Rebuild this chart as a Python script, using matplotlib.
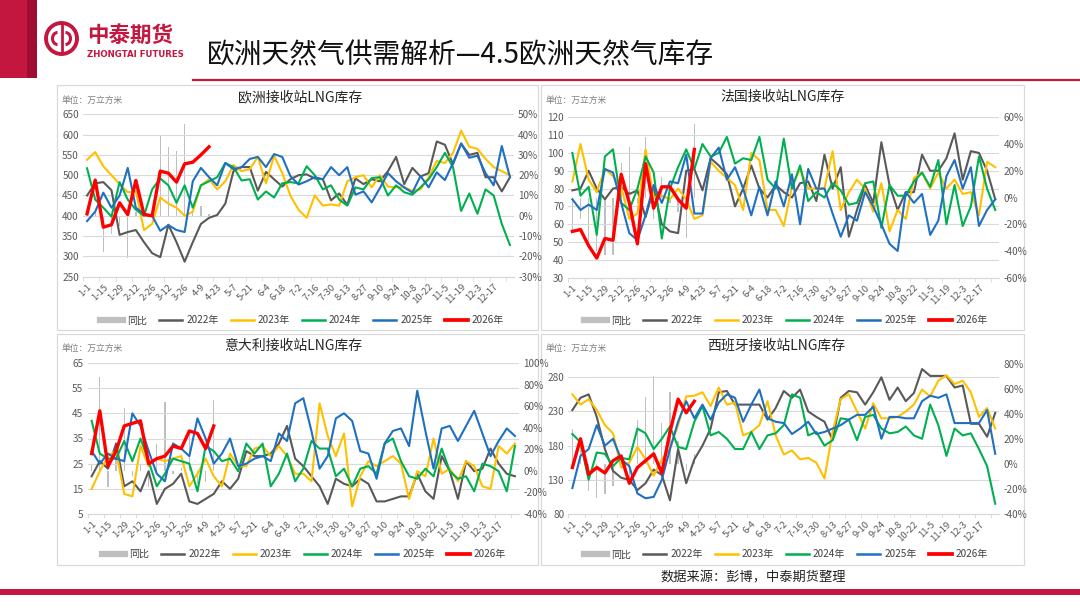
import matplotlib
matplotlib.use('Agg')
import matplotlib.pyplot as plt
from matplotlib.patches import Rectangle, Circle, Arc
from matplotlib.lines import Line2D
import numpy as np

plt.rcParams['font.family'] = ['Noto Sans CJK SC', 'DejaVu Sans']

# ---------------- data ----------------
tick_labels = ["1-1", "1-15", "1-29", "2-12", "2-26", "3-12", "3-26", "4-9", "4-23",
               "5-7", "5-21", "6-4", "6-18", "7-2", "7-16", "7-30", "8-13", "8-27",
               "9-10", "9-24", "10-8", "10-22", "11-5", "11-19", "12-3", "12-17"]
years = ["2022年", "2023年", "2024年", "2025年", "2026年"]

eu_2022 = [450,480,483,463,353,360,365,335,308,298, 378,335,287,335,380,395,402,430,510,520,
           520,462,508,490,472,490,500,502,492,490, 438,455,427,492,478,490,485,510,545,478,
           518,497,505,583,575,527,578,550,555,495, 495,460,495]
eu_2023 = [538,557,522,500,478,458,460,365,380,445, 430,420,400,410,475,490,465,485,525,510,
           515,545,480,548,505,450,415,395,450,425, 428,425,485,495,500,470,500,472,470,470,
           462,465,495,535,530,555,610,570,565,540, 520,510,500]
eu_2024 = [517,440,420,398,483,440,415,400,465,492, 475,432,475,420,475,485,495,530,520,487,
           490,440,460,445,480,483,480,522,500,465, 475,440,425,470,465,493,495,450,475,458,
           452,470,490,520,555,520,412,455,405,465, 450,380,328]
eu_2025 = [387,410,457,420,450,518,420,405,400,363, 377,365,360,485,518,495,475,530,515,520,
           540,545,520,552,545,498,477,485,495,490, 520,500,520,452,460,433,468,505,485,470,
           457,498,470,507,488,530,578,543,548,505, 475,572,495]
eu_2026 = [405,488,372,378,432,403,487,403,400,510,505,483,528,532,550,570]
eu_yoy = [0.03,0.02,-0.18,-0.09,-0.05,-0.21,0.02,0.0,0.0,0.40,0.34,0.32,0.45,0.02,0.05,0.01]

fr_2022 = [79,80,90,80,74,80,81,77,79,64, 80,60,56,55,90,91,79,97,93,88,
           70,80,93,80,75,82,78,75,83,84, 73,99,80,92,53,68,82,72,106,82,
           68,78,78,99,90,90,97,111,85,101, 100,90,74]
fr_2023 = [84,105,85,78,91,87,81,63,66,102, 75,76,74,80,74,63,65,95,90,86,
           82,68,100,96,68,68,59,81,91,80, 80,80,101,68,78,85,80,67,83,56,
           68,63,86,89,80,89,80,85,77,78, 65,95,92]
fr_2024 = [100,76,81,54,98,102,72,68,80,98, 89,52,80,92,102,91,105,98,100,109,
           94,97,96,109,85,80,108,80,93,73, 78,75,83,79,71,72,83,84,58,82,
           76,76,84,89,81,96,60,82,59,70, 98,80,68]
fr_2025 = [74,68,71,68,91,89,72,55,51,65, 82,72,84,83,99,66,66,97,103,85,
           92,80,65,81,65,84,70,88,60,91, 80,80,66,53,65,62,78,70,60,49,
           45,78,72,77,54,62,87,96,80,92, 59,68,74]
fr_2026 = [56,57,48,41,52,51,88,72,49,94,69,81,81,74,69,102]
fr_yoy = [-0.25,-0.16,-0.33,-0.40,-0.43,-0.43,0.26,0.38,-0.04,0.45,-0.16,0.15,-0.04,-0.11,-0.30,0.55]

it_2022 = [20,26,23,33,16,18,14,22,9,15, 17,21,10,9,11,13,18,15,19,30,
           28,28,29,33,40,27,24,20,16,9, 19,17,16,19,17,10,10,11,12,12,
           21,14,11,28,22,11,26,22,23,31, 25,21,20]
it_2023 = [15,22,28,30,13,12,32,24,27,26, 27,28,16,21,27,20,16,29,24,24,
           31,32,28,32,28,21,21,18,49,36, 28,37,8,20,26,24,26,28,25,11,
           22,20,35,21,23,18,26,24,16,15, 32,29,33]
it_2024 = [42,29,27,27,34,26,35,26,16,21, 27,26,25,14,32,30,26,27,22,33,
           29,33,16,21,29,18,23,34,31,31, 20,23,16,23,24,21,33,35,26,20,
           19,23,20,31,22,19,20,14,25,24, 22,14,32]
it_2025 = [30,25,29,27,26,45,40,30,21,18, 33,31,28,43,35,25,29,35,24,25,
           27,28,26,37,34,49,51,38,23,28, 43,45,42,30,29,19,33,38,39,32,
           54,38,23,39,40,34,40,46,37,28, 34,39,36]
it_2026 = [29,46,24,30,40,41,42,25,27,28,32,31,38,37,31,40]
it_yoy = [0.05,0.87,-0.15,0.12,0.58,-0.05,0.05,-0.15,0.25,0.64,-0.03,0.03,0.35,-0.12,-0.10,0.66]

es_2022 = [232,250,255,222,175,143,133,130,115,125, 145,137,100,175,125,160,180,205,258,260,
           240,240,240,240,218,235,260,250,262,230, 222,215,188,250,260,258,240,258,280,247,
           265,245,257,292,282,282,282,265,268,212, 212,193,228]
es_2023 = [255,240,248,232,210,198,148,155,178,160, 136,160,175,210,252,253,258,238,265,240,
           243,195,200,210,245,195,167,173,160,162, 155,132,200,248,255,230,205,242,220,220,
           222,230,240,262,252,275,283,270,275,258, 222,235,205]
es_2024 = [197,185,130,170,168,150,162,160,205,198, 175,190,208,178,175,215,238,195,200,190,
           175,175,200,175,195,198,210,255,250,195, 200,180,188,220,218,188,222,225,205,198,
           200,208,195,190,240,210,165,205,195,198, 175,150,95]
es_2025 = [118,165,175,210,180,190,160,150,110,103, 105,130,175,215,245,220,240,218,243,255,
           250,215,240,262,220,215,213,197,205,215, 197,200,205,210,218,225,225,237,190,222,
           222,220,220,245,253,250,255,213,213,213, 213,232,168]
es_2026 = [148,190,138,148,140,158,165,125,148,158,168,140,200,248,228,245]
es_yoy = [0.28,0.15,-0.22,-0.27,-0.24,-0.18,0.03,-0.17,0.35,0.53,0.70,0.33,0.57,0.18,-0.05,0.08]

# ---------------- style ----------------
COLORS = ['#595959', '#FFC000', '#00B050', '#1F70C1', '#FF0000']
LWS = [1.5, 1.5, 1.5, 1.5, 2.4]
BAR_C = '#BFBFBF'
GRID_C = '#D9D9D9'
TXT_C = '#404040'
CRIMSON = '#C3173F'

W, H = 1080, 608
fig = plt.figure(figsize=(10.8, 6.08), dpi=100)
bg = fig.add_axes([0, 0, 1, 1])
bg.set_xlim(0, W); bg.set_ylim(H, 0); bg.axis('off')

# header
bg.add_patch(Rectangle((0, 0), 27, 78, color=CRIMSON, lw=0))
bg.add_patch(Rectangle((27, 0), 10, 78, color='#A00D33', lw=0))
bg.add_patch(Circle((61.5, 38.5), 15.5, fill=False, ec=CRIMSON, lw=2.8))
bg.add_patch(Arc((57.5, 38.5), 10, 12, theta1=90, theta2=270, ec=CRIMSON, lw=2.2))
bg.add_patch(Arc((65.5, 38.5), 10, 12, theta1=-90, theta2=90, ec=CRIMSON, lw=2.2))
bg.plot([61.5, 61.5], [25, 52], color=CRIMSON, lw=2.0)
bg.text(87, 35, "中泰期货", fontsize=15.5, fontweight='bold', color=CRIMSON, ha='left', va='center')
bg.text(87, 54.5, "ZHONGTAI FUTURES", fontsize=6.2, fontweight='bold', color=CRIMSON,
        ha='left', va='center', family=['DejaVu Sans'])
bg.text(207, 55, "欧洲天然气供需解析—4.5欧洲天然气库存", fontsize=20, color='#111111',
        ha='left', va='center')
bg.plot([193, 1080], [80, 80], color=CRIMSON, lw=1.6)

# footer
bg.text(660, 578, "数据来源：彭博，中泰期货整理", fontsize=9.5, color='#222222', ha='left', va='center')
bg.add_patch(Rectangle((0, 589), W, 6, color=CRIMSON, lw=0))


def panel(box, plot, ylim, ystep, rlim, rstep, title, title_xy, unit_xy, series, yoy, leg_xy):
    bx0, by0, bx1, by1 = box
    bg.add_patch(Rectangle((bx0, by0), bx1 - bx0, by1 - by0, fill=False, ec=GRID_C, lw=0.9))
    l, t, r, b = plot
    ax = fig.add_axes([l / W, 1 - b / H, (r - l) / W, (b - t) / H])
    ax2 = ax.twinx()
    ax.set_zorder(ax2.get_zorder() + 1)
    ax.patch.set_visible(False)

    ax2.bar(np.arange(len(yoy)), yoy, width=0.16, color=BAR_C, lw=0)
    handles = [Line2D([0], [0], color=BAR_C, lw=4.5)]
    for vals, c, lw in zip(series, COLORS, LWS):
        ax.plot(np.arange(len(vals)), vals, color=c, lw=lw, solid_joinstyle='round')
        handles.append(Line2D([0], [0], color=c, lw=lw + 0.3))

    ax.set_xlim(-0.5, 52.5)
    ax.set_ylim(*ylim)
    if (ylim[1] - ylim[0]) % ystep == 0:
        ax.set_yticks(np.arange(ylim[0], ylim[1] + 0.01, ystep))
    else:
        ax.set_yticks(np.arange(ylim[0], ylim[1], ystep))
    ax2.set_ylim(*rlim)
    rt = np.arange(rlim[0], rlim[1] + 1e-9, rstep)
    ax2.set_yticks(rt)
    ax2.set_yticklabels(["{:.0f}%".format(v * 100) for v in rt])

    ax.yaxis.grid(True, color=GRID_C, lw=0.8)
    ax.set_axisbelow(True)
    for a in (ax, ax2):
        for s in a.spines.values():
            s.set_visible(False)
        a.spines['bottom'].set_visible(True)
        a.spines['bottom'].set_color(GRID_C)
        a.tick_params(axis='y', length=0, labelsize=7.2, labelcolor='#595959', pad=3)
    ax.set_xticks(np.arange(0, 52, 2))
    ax.set_xticklabels(tick_labels, rotation=45, ha='right', rotation_mode='anchor',
                       fontsize=6.8, color='#595959')
    ax.tick_params(axis='x', which='major', length=0, pad=4)
    ax.set_xticks(np.arange(-0.5, 53, 2), minor=True)
    ax.tick_params(axis='x', which='minor', length=3, color=GRID_C)

    bg.text(title_xy[0], title_xy[1], title, fontsize=10, color='#262626', ha='center', va='center')
    bg.text(unit_xy[0], unit_xy[1], "单位：万立方米", fontsize=6.3, color='#7F7F7F', ha='left', va='center')
    fig.legend(handles, ["同比"] + years, loc='center',
               bbox_to_anchor=(leg_xy[0] / W, 1 - leg_xy[1] / H), ncol=6, frameon=False,
               fontsize=7.2, handlelength=2.3, handletextpad=0.4, columnspacing=1.2,
               labelcolor=TXT_C)


panel((57, 85, 538, 330), (83, 114.3, 514, 276.7), (250, 650), 50, (-0.30, 0.50), 0.10,
      "欧洲接收站LNG库存", (300, 97), (61, 100),
      [eu_2022, eu_2023, eu_2024, eu_2025, eu_2026], eu_yoy, (302, 320.5))
panel((541, 85, 1024, 330), (568.3, 117.3, 999.3, 277.7), (30, 120), 10, (-0.60, 0.60), 0.20,
      "法国接收站LNG库存", (783, 97), (545, 100),
      [fr_2022, fr_2023, fr_2024, fr_2025, fr_2026], fr_yoy, (786, 320.5))
panel((57, 334, 538, 565), (87.6, 363, 519, 514), (5, 65), 10, (-0.40, 1.00), 0.20,
      "意大利接收站LNG库存", (293, 346), (62, 348),
      [it_2022, it_2023, it_2024, it_2025, it_2026], it_yoy, (304, 554))
panel((541, 334, 1024, 565), (568.3, 363.6, 999.3, 514), (80, 300), 50, (-0.40, 0.80), 0.20,
      "西班牙接收站LNG库存", (776, 346), (545, 348),
      [es_2022, es_2023, es_2024, es_2025, es_2026], es_yoy, (786, 554.5))

fig.savefig("out.png", dpi=100)
